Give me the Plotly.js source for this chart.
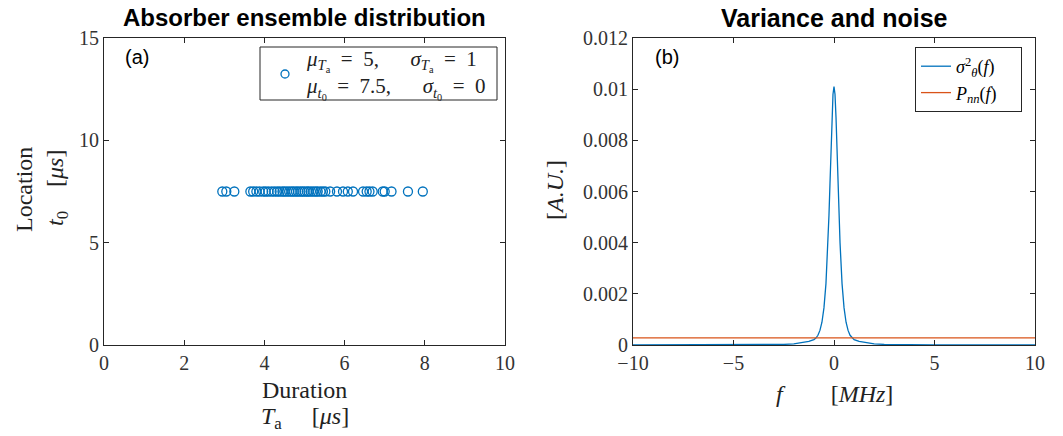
<!DOCTYPE html>
<html>
<head>
<meta charset="utf-8">
<script src="https://cdn.plot.ly/plotly-3.0.1.min.js"></script>
<style>html,body{margin:0;padding:0;background:#fff;}#chart{width:1063px;height:436px;}</style>
</head>
<body>
<div id="chart"></div>
<script>
// Panel (a): absorber durations (all at location t0 = 7.5 us)
var durations = [2.95, 3.05, 3.25, 3.65, 3.72, 3.8, 3.88, 3.97, 4.03, 4.1, 4.18, 4.25, 4.32, 4.38, 4.45, 4.5, 4.56, 4.62, 4.68, 4.73, 4.79, 4.84, 4.9, 4.95, 5.0, 5.06, 5.1, 5.16, 5.22, 5.28, 5.33, 5.4, 5.46, 5.52, 5.64, 5.81, 5.96, 6.08, 6.21, 6.46, 6.55, 6.62, 6.7, 6.95, 7.0, 7.17, 7.58, 7.95];
var locations = [7.5, 7.5, 7.5, 7.5, 7.5, 7.5, 7.5, 7.5, 7.5, 7.5, 7.5, 7.5, 7.5, 7.5, 7.5, 7.5, 7.5, 7.5, 7.5, 7.5, 7.5, 7.5, 7.5, 7.5, 7.5, 7.5, 7.5, 7.5, 7.5, 7.5, 7.5, 7.5, 7.5, 7.5, 7.5, 7.5, 7.5, 7.5, 7.5, 7.5, 7.5, 7.5, 7.5, 7.5, 7.5, 7.5, 7.5, 7.5];

// Panel (b): variance and noise spectra
var freq = [-10, -8, -6, -5, -4, -3, -2.5, -2, -1.75, -1.5, -1.25, -1.0, -0.9, -0.8, -0.7, -0.6, -0.5, -0.4, -0.3, -0.25, -0.2, -0.15, -0.1, -0.05, 0,
            0.05, 0.1, 0.15, 0.2, 0.25, 0.3, 0.4, 0.5, 0.6, 0.7, 0.8, 0.9, 1.0, 1.25, 1.5, 1.75, 2, 2.5, 3, 4, 5, 6, 8, 10];
var variance = [0.0000003, 0.0000005, 0.000001, 0.000002, 0.000004, 0.000012, 0.000022, 0.000045, 0.00007, 0.0001, 0.00014, 0.00021, 0.00027, 0.00038, 0.00057, 0.00089, 0.00145, 0.0024, 0.004, 0.00507, 0.0063, 0.0076, 0.0089, 0.0098, 0.0101,
                0.0098, 0.0089, 0.0076, 0.0063, 0.00507, 0.004, 0.0024, 0.00145, 0.00089, 0.00057, 0.00038, 0.00027, 0.00021, 0.00014, 0.0001, 0.00007, 0.000045, 0.000022, 0.000012, 0.000004, 0.000002, 0.000001, 0.0000005, 0.0000003];
var noiseFreq = [-10, 10];
var noise = [0.00028, 0.00028];

var xTicksA = [0, 2, 4, 6, 8, 10];
var yTicksA = [0, 5, 10, 15];
var xTicksB = [-10, -5, 0, 5, 10];
var yTicksB = [0, 0.002, 0.004, 0.006, 0.008, 0.01, 0.012];

var BLUE = '#0072BD', ORANGE = '#D95319', AX = '#262626';
var serif = 'Liberation Serif, DejaVu Serif, serif';
var sans = 'Liberation Sans, Arial, sans-serif';
var NB = '\u00a0';
function sp(n) { var s = ''; for (var i = 0; i < n; i++) s += NB; return s; }
var EQ = sp(2) + '=' + sp(2);

var legendA = '<i>μ</i><sub><i>T</i><sub>a</sub></sub>' + EQ + '5,' + sp(6) + '<i>σ</i><sub><i>T</i><sub>a</sub></sub>' + EQ + '1' +
              '<br><i>μ</i><sub><i>t</i><sub>0</sub></sub>' + EQ + '7.5,' + sp(6) + '<i>σ</i><sub><i>t</i><sub>0</sub></sub>' + EQ + '0';

var traces = [
  {
    x: durations, y: locations, type: 'scatter', mode: 'markers',
    xaxis: 'x', yaxis: 'y', showlegend: false,
    name: 'absorbers',
    marker: {symbol: 'circle-open', size: 9, color: BLUE, line: {color: BLUE, width: 1.3}}
  },
  {
    x: freq, y: variance, type: 'scatter', mode: 'lines',
    xaxis: 'x2', yaxis: 'y2', legend: 'legend2',
    name: '<i>σ</i><sup>2</sup><sub><i>θ</i></sub>(<i>f</i>)' + sp(4),
    line: {color: BLUE, width: 1.3}
  },
  {
    x: noiseFreq, y: noise, type: 'scatter', mode: 'lines',
    xaxis: 'x2', yaxis: 'y2', legend: 'legend2',
    name: '<i>P</i><sub><i>nn</i></sub>(<i>f</i>)' + sp(4),
    line: {color: ORANGE, width: 1.3}
  }
];

function axis(domain, range, ticks, anchor) {
  return {
    domain: domain, range: range, tickvals: ticks, anchor: anchor,
    showline: true, mirror: 'ticks', linecolor: AX, linewidth: 1,
    ticks: 'inside', ticklen: 5, tickcolor: AX, tickwidth: 1,
    showgrid: false, zeroline: false,
    tickfont: {family: serif, size: 20, color: '#333'},
    fixedrange: true
  };
}

function ann(text, x, y, size, family, angle, xanchor) {
  return {text: text, x: x / 1063, y: 1 - y / 436, xref: 'paper', yref: 'paper',
    xanchor: xanchor || 'center', yanchor: 'middle', showarrow: false, textangle: angle || 0,
    align: 'left',
    font: {family: family, size: size, color: family === sans ? '#000' : '#222'}};
}
function px(x) { return x / 1063; }
function py(y) { return 1 - y / 436; }

var layout = {
  width: 1063, height: 436,
  margin: {l: 0, r: 0, t: 0, b: 0},
  paper_bgcolor: '#fff', plot_bgcolor: '#fff',
  showlegend: true,
  xaxis: axis([104/1063, 505/1063], [0, 10], xTicksA, 'y'),
  yaxis: axis([91/436, 398/436], [0, 15], yTicksA, 'x'),
  xaxis2: axis([633/1063, 1035/1063], [-10, 10], xTicksB, 'y2'),
  yaxis2: axis([91/436, 398/436], [0, 0.012], yTicksB, 'x2'),
  legend2: {
    x: 915/1063, y: 1 - 47/436, xanchor: 'left', yanchor: 'top',
    bgcolor: '#fff', bordercolor: AX, borderwidth: 1,
    font: {family: serif, size: 18, color: '#000'}, tracegroupgap: 0
  },
  shapes: [
    {type: 'rect', xref: 'paper', yref: 'paper', x0: px(260), x1: px(497), y0: py(100), y1: py(47),
     line: {color: AX, width: 1}, fillcolor: '#fff', layer: 'above'},
    {type: 'circle', xref: 'paper', yref: 'paper', x0: px(281), x1: px(289), y0: py(78), y1: py(70),
     line: {color: BLUE, width: 1.3}, layer: 'above'}
  ],
  annotations: [
    ann('<b>Absorber ensemble distribution</b>', 304.5, 18, 24, sans),
    ann('<b>Variance and noise</b>', 834, 18, 25, sans),
    ann('(a)', 137, 57, 20, sans),
    ann('(b)', 667, 57, 20, sans),
    ann('Duration', 304.5, 390, 24, serif),
    ann('<i>T</i><sub>a</sub>' + sp(5) + '[<i>μs</i>]', 304.5, 418, 24, serif),
    ann('Location', 24, 190, 24, serif, -90),
    ann('<i>t</i><sub>0</sub>' + sp(4) + '[<i>μs</i>]', 57, 188, 24, serif, -90),
    ann('[<i>A.U.</i>]', 555, 190, 24, serif, -90),
    ann('<i>f</i>' + sp(8) + '[<i>MHz</i>]', 834, 394, 24, serif),
    ann(legendA, 304, 75, 21, serif, 0, 'left')
  ]
};

Plotly.newPlot('chart', traces, layout, {displayModeBar: false, staticPlot: true});
</script>
</body>
</html>
